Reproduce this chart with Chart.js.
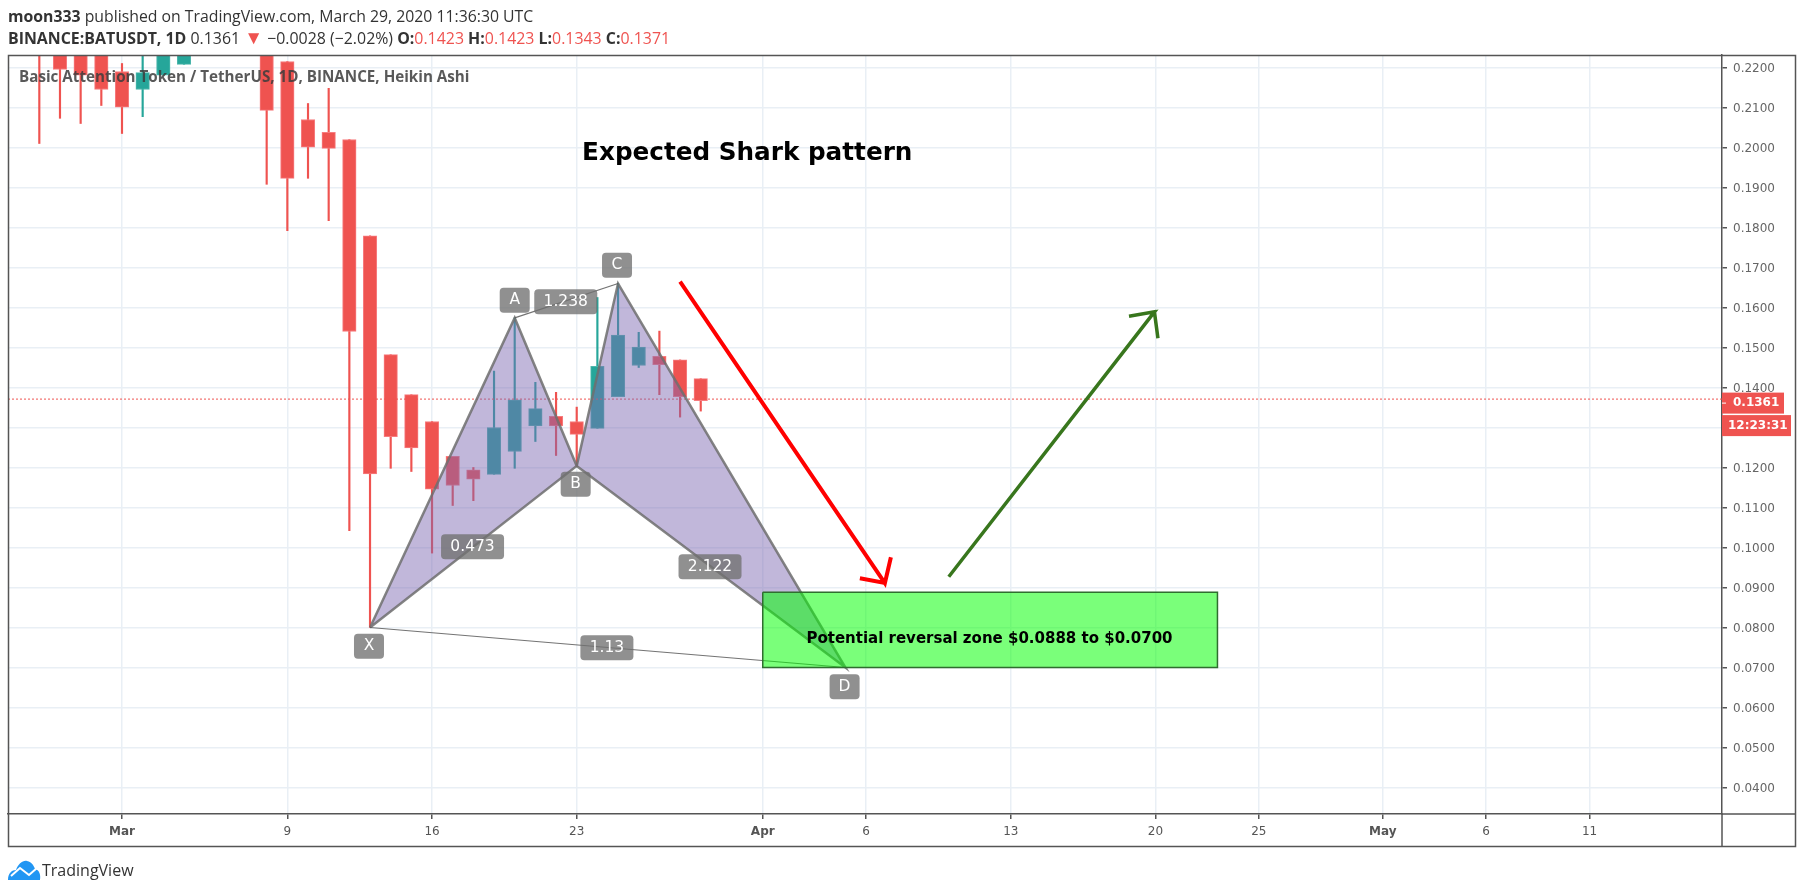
<!DOCTYPE html>
<html>
<head>
<meta charset="utf-8">
<title>BATUSDT Shark pattern</title>
<script src="https://cdn.jsdelivr.net/npm/chart.js@4"></script>
<style>
  html, body { margin: 0; padding: 0; background: #fff; }
  #wrap { position: relative; width: 1805px; height: 894px; overflow: hidden; }
  canvas { position: absolute; left: 0; top: 0; }
  .txt { position: absolute; white-space: nowrap; font-family: "Open Sans", sans-serif; color: #333; }
  .red { color: #ef5350; }
  b { color: #333; }
</style>
</head>
<body>
<div id="wrap">
  <canvas id="chart" width="1805" height="894"></canvas>
  <div class="txt" style="left:8px;top:5px;font-size:15.8px;"><b>moon333</b> published on TradingView.com, March 29, 2020 11:36:30 UTC</div>
  <div class="txt" style="left:8px;top:27px;font-size:15.9px;"><b>BINANCE:BATUSDT, 1D</b> 0.1361 <span class="red" style="font-size:19px;line-height:0;">&#9660;</span> &minus;0.0028 (&minus;2.02%) <b>O:</b><span class="red">0.1423</span> <b>H:</b><span class="red">0.1423</span> <b>L:</b><span class="red">0.1343</span> <b>C:</b><span class="red">0.1371</span></div>
  <div class="txt" style="left:19px;top:66px;font-size:15.2px;font-weight:700;color:rgba(60,60,60,.85);">Basic Attention Token / TetherUS, 1D, BINANCE, Heikin Ashi</div>
  <svg style="position:absolute;left:8px;top:860px" width="33" height="20" viewBox="0 0 33 20">
    <path d="M0 20 C0 13 4 10 8 10 C10 4 15 0 19 1 C24 2 26 6 27 9 C31 10 33 14 32 20 Z" fill="#2196f3"/>
    <path d="M3 16 L12 8 L21 15 L29 8" fill="none" stroke="#fff" stroke-width="2"/>
  </svg>
  <div class="txt" style="left:42px;top:859px;font-size:16px;color:#333;">TradingView</div>
</div>
<script>
// Daily Heikin Ashi candles, day 0 = Mar 1 2020
const candleDays = [-4, -3, -2, -1, 0, 1, 2, 3, 7, 8, 9, 10, 11, 12, 13, 14, 15, 16, 17, 18, 19, 20, 21, 22, 23, 24, 25, 26, 27, 28];
const bodyTop = [.2300, .2300, .2290, .2260, .2190, .2187, .2250, .2260, .2290, .2215, .2070, .2038, .2020, .1779, .1482, .1382, .1315, .1228, .1194, .1300, .1369, .1347, .1328, .1315, .1453, .1531, .1501, .1478, .1469, .1422];
const bodyBottom = [.2260, .2195, .2181, .2145, .2101, .2145, .2181, .2208, .2093, .1923, .2001, .1998, .1540, .1184, .1277, .1249, .1146, .1155, .1171, .1183, .1240, .1304, .1304, .1283, .1298, .1377, .1455, .1457, .1377, .1367];
const wickHigh = [.2330, .2320, .2310, .2280, .2210, .2240, .2260, .2270, .2300, .2215, .2110, .2148, .2020, .1779, .1482, .1382, .1315, .1228, .1200, .1441, .1574, .1413, .1388, .1351, .1625, .1660, .1538, .1541, .1469, .1422];
const wickLow = [.2010, .2073, .2060, .2105, .2035, .2077, .2181, .2208, .1908, .1792, .1923, .1817, .1042, .0800, .1198, .1190, .0986, .1105, .1117, .1183, .1198, .1265, .1230, .1202, .1298, .1377, .1450, .1382, .1326, .1341];
const candleUp = [0, 0, 0, 0, 0, 1, 1, 1, 0, 0, 0, 0, 0, 0, 0, 0, 0, 0, 0, 1, 1, 1, 0, 0, 1, 1, 1, 0, 0, 0];

// Axes
const dayMin = -5.515;
const dayMax = 77.41;
const priceMin = 0.033375;
const priceMax = 0.223125;
const priceTicks = [.04, .05, .06, .07, .08, .09, .10, .11, .12, .13, .14, .15, .16, .17, .18, .19, .20, .21, .22];
const dayTicks = [0, 8, 15, 22, 31, 36, 43, 50, 55, 61, 66, 71];
const dayTickLabels = ['Mar', '9', '16', '23', 'Apr', '6', '13', '20', '25', 'May', '6', '11'];

// Drawings: [day, price]
const leftTriangle = [[12, .0800], [19, .1574], [22, .1204], [12, .0800]];
const rightTriangle = [[22, .1204], [24, .1660], [35, .0700], [22, .1204]];
const acLine = [[19, .1574], [24, .1660]];
const xdLine = [[12, .0800], [35, .0700]];
const zoneBox = [[31, .0888], [53, .0888], [53, .0700], [31, .0700], [31, .0888]];
const redArrow = [[27, .16645], [36.91, .09112], [37.2, .09755], [36.91, .09112], [35.7, .0923]];
const greenArrow = [[40, .0927], [49.95, .1589], [48.72, .1578], [49.95, .1589], [50.12, .1523]];
const lastClose = 0.1371;
const lastPrice = 0.1361;

// Grey pill labels
const pillText = ['A', '1.238', 'C', 'B', 'X', 'D', '0.473', '2.122', '1.13'];
const pillDay = [19, 21.47, 23.95, 21.95, 11.95, 34.96, 16.96, 28.45, 23.46];
const pillPrice = [.1618, .16145, .17055, .1158, .0753, .0652, .1002, .0952, .07495];

const asPoints = pts => pts.map(p => ({ x: p[0], y: p[1] }));

function drawingLine(pts, color, width, fillColor, order, dash) {
    return {
        type: 'line',
        data: asPoints(pts),
        borderColor: color,
        borderWidth: width,
        borderDash: dash || [],
        backgroundColor: fillColor || 'transparent',
        fill: fillColor ? 'shape' : false,
        pointRadius: 0,
        tension: 0,
        borderJoinStyle: 'miter',
        order: order
    };
}

const annotationPlugin = {
    id: 'annotations',
    afterDatasetsDraw(chart) {
        const { ctx, scales: { x, y } } = chart;
        ctx.save();
        ctx.textAlign = 'center';
        ctx.textBaseline = 'middle';

        // pills
        ctx.font = '15.5px "DejaVu Sans"';
        pillText.forEach((t, i) => {
            const cx = x.getPixelForValue(pillDay[i]);
            const cy = y.getPixelForValue(pillPrice[i]);
            const w = t.length === 1 ? 30 : (t.length === 4 ? 53 : 63);
            ctx.fillStyle = 'rgba(113,113,113,.78)';
            ctx.beginPath();
            ctx.roundRect(cx - w / 2, cy - 12.5, w, 25, 4);
            ctx.fill();
            ctx.fillStyle = '#fff';
            ctx.fillText(t, cx, cy);
        });

        ctx.fillStyle = '#000';
        ctx.font = 'bold 24.7px "DejaVu Sans"';
        ctx.fillText('Expected Shark pattern', x.getPixelForValue(30.25), y.getPixelForValue(.1986));
        ctx.font = 'bold 15px "DejaVu Sans"';
        ctx.fillText('Potential reversal zone $0.0888 to $0.0700', x.getPixelForValue(41.97), y.getPixelForValue(.0770));
        ctx.restore();
    },
    afterDraw(chart) {
        const { ctx, chartArea, scales: { y } } = chart;
        ctx.save();
        // outer frame
        ctx.strokeStyle = '#555';
        ctx.lineWidth = 1.5;
        ctx.strokeRect(8.5, 55.5, 1787, 791);

        // axis lines carry on across the corner cell
        ctx.beginPath();
        ctx.moveTo(chartArea.right, chartArea.bottom);
        ctx.lineTo(1796, chartArea.bottom);
        ctx.moveTo(chartArea.right, chartArea.bottom);
        ctx.lineTo(chartArea.right, 847);
        ctx.stroke();

        // last price tags
        const tagY = y.getPixelForValue(lastPrice);
        const r = chartArea.right;
        ctx.fillStyle = '#ef5350';
        ctx.fillRect(r, tagY - 10.5, 62, 21);
        ctx.fillRect(r, tagY + 12, 69, 21);
        ctx.fillStyle = '#fff';
        ctx.fillRect(r, tagY - 0.5, 4, 1);
        ctx.font = 'bold 12px "DejaVu Sans"';
        ctx.textBaseline = 'middle';
        ctx.fillText(lastPrice.toFixed(4), r + 11, tagY);
        ctx.fillText('12:23:31', r + 6, tagY + 22.5);
        ctx.restore();
    }
};

const gridColor = '#e9eff5';
const axisColor = '#555';

new Chart(document.getElementById('chart'), {
    type: 'bar',
    data: {
        datasets: [
            {
                data: candleDays.map((d, i) => ({ x: d, y: [bodyBottom[i], bodyTop[i]] })),
                backgroundColor: candleUp.map(u => u ? '#26a69a' : '#ef5350'),
                borderColor: candleUp.map(u => u ? '#4db6ac' : '#f77c7f'),
                borderWidth: 1,
                borderSkipped: false,
                barThickness: 13.5,
                grouped: false,
                order: 9
            },
            {
                data: candleDays.map((d, i) => ({ x: d, y: [wickLow[i], wickHigh[i]] })),
                backgroundColor: candleUp.map(u => u ? '#26a69a' : '#ef5350'),
                borderWidth: 0,
                barThickness: 1.5,
                grouped: false,
                order: 10
            },
            drawingLine([[dayMin, lastClose], [dayMax, lastClose]], '#ef5350', 1, null, 8, [2, 2]),
            drawingLine(leftTriangle, 'rgba(110,110,110,.85)', 2.5, 'rgba(126,105,178,.48)', 7),
            drawingLine(rightTriangle, 'rgba(110,110,110,.85)', 2.5, 'rgba(126,105,178,.48)', 6),
            drawingLine(acLine, 'rgba(90,90,90,.85)', 1.2, null, 5),
            drawingLine(xdLine, 'rgba(90,90,90,.85)', 1.2, null, 5),
            drawingLine(zoneBox, '#2f6e2f', 1.5, 'rgba(0,255,0,.52)', 4),
            drawingLine(redArrow, '#ff0000', 4, null, 3),
            drawingLine(greenArrow, '#38761d', 3.5, null, 3)
        ]
    },
    options: {
        responsive: false,
        devicePixelRatio: 1,
        animation: false,
        events: [],
        layout: { padding: { left: 8, right: 9, top: 55, bottom: 47 } },
        plugins: { legend: { display: false }, tooltip: { enabled: false } },
        scales: {
            x: {
                type: 'linear',
                offset: false,
                min: dayMin,
                max: dayMax,
                afterBuildTicks: s => { s.ticks = dayTicks.map(v => ({ value: v })); },
                afterFit: s => { s.height = 33; },
                grid: { offset: false, color: gridColor, lineWidth: 1.5, tickColor: axisColor, tickLength: 5 },
                border: { color: axisColor, width: 1.5 },
                ticks: {
                    autoSkip: false,
                    maxRotation: 0,
                    padding: 6,
                    color: '#555',
                    font: ctx => ({
                        family: '"DejaVu Sans"',
                        size: 12,
                        weight: isNaN(+dayTickLabels[ctx.index]) ? 'bold' : 'normal'
                    }),
                    callback: (v, i) => dayTickLabels[i]
                }
            },
            y: {
                position: 'right',
                min: priceMin,
                max: priceMax,
                afterBuildTicks: s => { s.ticks = priceTicks.map(v => ({ value: v })); },
                afterFit: s => { s.width = 74; },
                grid: { color: gridColor, lineWidth: 1.5, tickColor: axisColor, tickLength: 5 },
                border: { color: axisColor, width: 1.5 },
                ticks: {
                    autoSkip: false,
                    padding: 6,
                    labelOffset: 1.5,
                    color: '#666',
                    font: { family: '"DejaVu Sans"', size: 12 },
                    callback: v => v.toFixed(4)
                }
            }
        }
    },
    plugins: [annotationPlugin]
});
</script>
</body>
</html>
